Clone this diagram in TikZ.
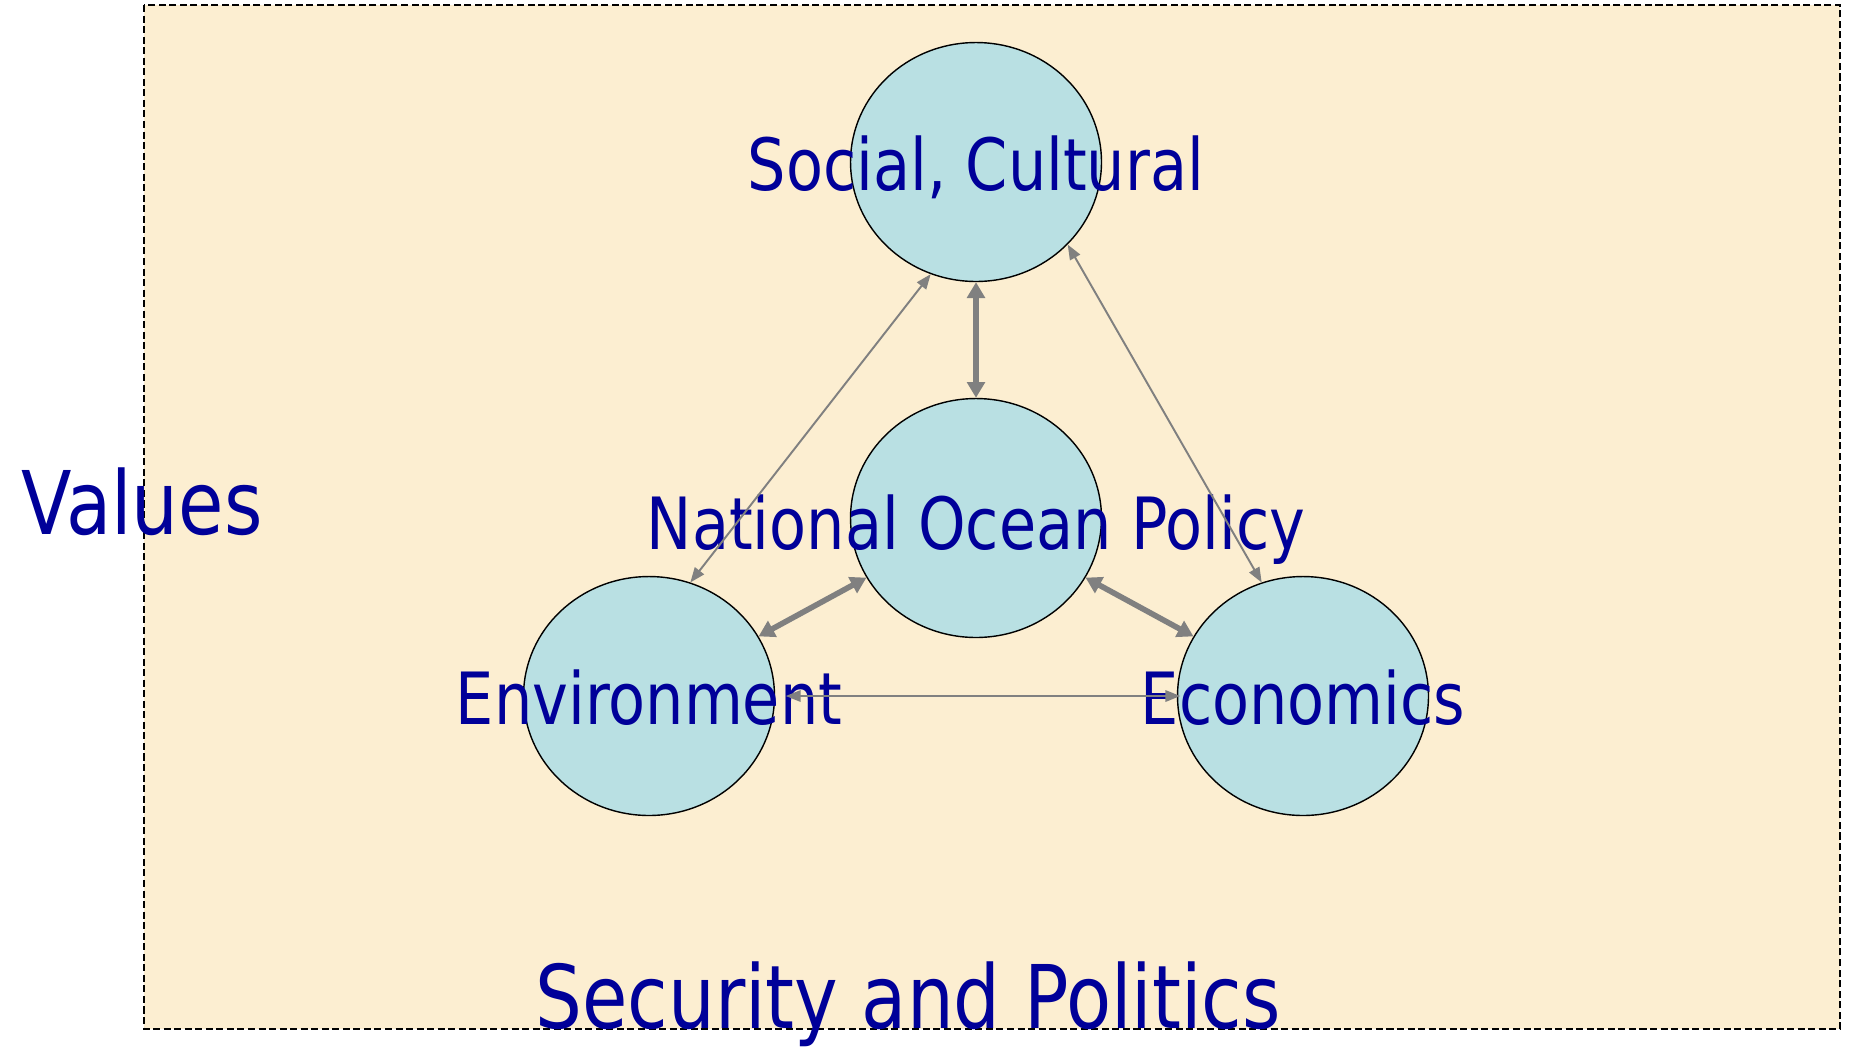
\documentclass[tikz,border=0pt]{standalone}
\usepackage{fontspec}
\newfontfamily\slidefont[FakeStretch=0.84]{DejaVu Sans}
\usetikzlibrary{shapes.geometric, arrows.meta}
\definecolor{paper}{HTML}{FCEED1}
\definecolor{discblue}{HTML}{B9E0E3}
\definecolor{ink}{HTML}{000099}

\begin{document}
\begin{tikzpicture}[x=0.02cm, y=-0.02cm,
  disc/.style = {ellipse, draw=black, line width=0.8pt, fill=discblue,
    minimum width=5.02cm, minimum height=4.78cm, inner sep=0pt},
  word/.style = {text=ink, font=\slidefont\fontsize{41}{41}\selectfont,
    anchor=base, inner sep=0pt},
  bigword/.style = {word, font=\slidefont\fontsize{50}{50}\selectfont},
  fat/.style = {draw=gray, line width=3.2pt,
    {Triangle[length=9pt,width=10pt]}-{Triangle[length=9pt,width=10pt]}},
  slim/.style = {draw=gray, line width=1.1pt,
    {Triangle[length=8.5pt,width=6.5pt]}-{Triangle[length=8.5pt,width=6.5pt]}}]
\useasboundingbox[fill=white] (0,0) rectangle (1852,1046);
\fill[paper] (144,5) rectangle (1840,1029);
\draw[line width=0.6pt, dash pattern=on 4pt off 2pt] (144,5) rectangle (1840,1029);

% the four discs
\node[disc] (soc) at (976,162) {};
\node[disc] (nop) at (976,518) {};
\node[disc] (env) at (649,696) {};
\node[disc] (eco) at (1303,696) {};

\node[word] (soc-t) at (976,190) {Social, Cultural};
\node[word] (nop-t) at (976,549) {National Ocean Policy};
\node[word] (env-t) at (649,724) {Environment};
\node[word] (eco-t) at (1303,724) {Economics};

\node[bigword] (val-t) at (142,534) {Values};
\node[bigword] (sec-t) at (908,1028) {Security and Politics};

% links
\draw[fat] (soc) -- (nop);
\draw[fat] (nop) -- (env);
\draw[fat] (nop) -- (eco);
\draw[slim, shorten <=6pt, shorten >=-2pt] (env.east) -- (eco.west);
\draw[slim] (env.70) -- (soc.248);
\draw[slim] (eco.110) -- (soc.318);
\end{tikzpicture}
\end{document}
